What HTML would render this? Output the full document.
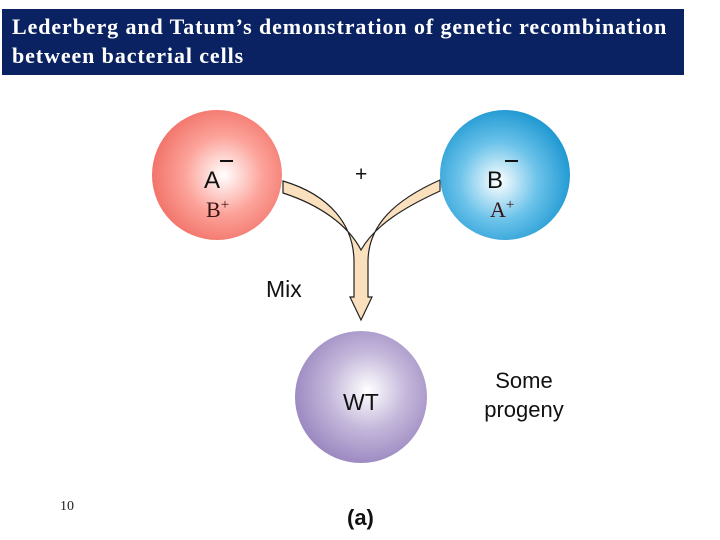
<!DOCTYPE html>
<html><head><style>
body{margin:0;width:720px;height:540px;background:#fff;position:relative;overflow:hidden;font-family:"Liberation Sans",sans-serif}
.t{position:absolute;left:2px;top:9px;width:682px;height:66px;background:#0b2262;color:#fff;font-family:"Liberation Serif",serif;font-weight:bold;font-size:22px;line-height:29px;padding:3px 0 0 10px;box-sizing:border-box;letter-spacing:0.9px;white-space:nowrap}
</style></head><body>
<div class="t">Lederberg and Tatum’s demonstration of genetic recombination<br>between bacterial cells</div>
<svg width="720" height="540" style="position:absolute;left:0;top:0">
<defs>
<radialGradient id="r" cx="0.55" cy="0.5" r="0.6"><stop offset="0" stop-color="#fff"/><stop offset="0.5" stop-color="#fca39a"/><stop offset="1" stop-color="#f06a60"/></radialGradient>
<radialGradient id="b" cx="0.45" cy="0.55" r="0.6"><stop offset="0" stop-color="#fff"/><stop offset="0.5" stop-color="#6cc3ea"/><stop offset="1" stop-color="#1693cf"/></radialGradient>
<radialGradient id="p" cx="0.55" cy="0.45" r="0.6"><stop offset="0" stop-color="#fff"/><stop offset="0.5" stop-color="#c3b6da"/><stop offset="1" stop-color="#9683bd"/></radialGradient>
</defs>
<path d="M283,181 C330,195 354,225 354,262 L354,297 L350,297 L361,320 L372,297 L368,297 L368,262 C368,225 395,200 440,180 L440,191 C405,207 375,225 361,250 C348,225 320,205 283,193 Z" fill="#fbe0bd" stroke="#222" stroke-width="1.2"/>
<circle cx="217" cy="175" r="65" fill="url(#r)"/>
<circle cx="505" cy="175" r="65" fill="url(#b)"/>
<circle cx="361" cy="397" r="66" fill="url(#p)"/>
<g font-size="24" fill="#111">
<text x="204" y="188">A</text><rect x="220" y="160" width="13" height="2"/>
<text x="487" y="188">B</text><rect x="505" y="160" width="13" height="2"/>
<text x="355" y="181" font-size="21">+</text>
<text x="266" y="297" font-size="23">Mix</text>
<text x="343" y="410" font-size="23">WT</text>
<text x="524" y="388" font-size="22" text-anchor="middle">Some</text>
<text x="524" y="417" font-size="22" text-anchor="middle">progeny</text>
<text x="347" y="525" font-size="22" font-weight="bold">(a)</text>
</g>
<g font-family="Liberation Serif,serif" font-size="22" fill="#3a1414">
<text x="206" y="217">B<tspan font-size="15" dy="-8">+</tspan></text>
<text x="490" y="217">A<tspan font-size="15" dy="-8">+</tspan></text>
<text x="60" y="510" font-size="14" fill="#222">10</text>
</g>
</svg>
</body></html>
